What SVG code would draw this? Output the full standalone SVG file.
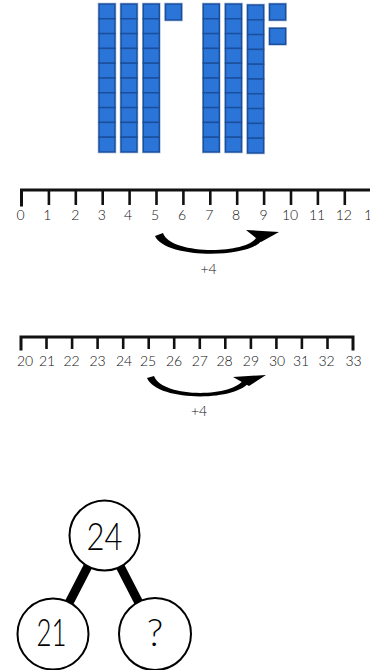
<svg xmlns="http://www.w3.org/2000/svg" width="370" height="670" viewBox="0 0 370 670">
<defs>
<style>
.cell{fill:#2b74d8;stroke:#1b4e9b;stroke-width:1.4}
.halo{fill:none;stroke:#a9bcd9;stroke-width:1}
.axis{stroke:#111;stroke-width:3;fill:none;stroke-linecap:square}
.tick{stroke:#111;stroke-width:2.6}
.lbl{font-family:Lato,"Open Sans","Liberation Sans",sans-serif;font-weight:300;fill:#111;text-anchor:middle}
.arrow{fill:#000}
.bond{fill:#fff;stroke:#000;stroke-width:2}
.bondline{stroke:#000;stroke-width:9}
.big{font-family:Lato,"Open Sans","Liberation Sans",sans-serif;font-weight:300;font-size:38px;fill:#000;text-anchor:middle}
</style>
<g id="rod">
<rect class="halo" x="-0.8" y="-0.8" width="17.6" height="149.6"/>
<rect class="cell" x="0" y="0" width="16" height="14.8"/>
<rect class="cell" x="0" y="14.8" width="16" height="14.8"/>
<rect class="cell" x="0" y="29.6" width="16" height="14.8"/>
<rect class="cell" x="0" y="44.4" width="16" height="14.8"/>
<rect class="cell" x="0" y="59.2" width="16" height="14.8"/>
<rect class="cell" x="0" y="74" width="16" height="14.8"/>
<rect class="cell" x="0" y="88.8" width="16" height="14.8"/>
<rect class="cell" x="0" y="103.6" width="16" height="14.8"/>
<rect class="cell" x="0" y="118.4" width="16" height="14.8"/>
<rect class="cell" x="0" y="133.2" width="16" height="14.8"/>
</g>
<g id="unit">
<rect class="halo" x="-0.8" y="-0.8" width="17.6" height="17.6"/>
<rect class="cell" x="0" y="0" width="16" height="16"/>
</g>
</defs>
<rect width="370" height="670" fill="#fff"/>

<g id="blocks-24">
<use href="#rod" x="99" y="4"/>
<use href="#rod" x="121" y="4"/>
<use href="#rod" x="143.3" y="4"/>
<use href="#unit" x="165.5" y="4"/>
</g>
<g id="blocks-32">
<use href="#rod" x="203.3" y="4"/>
<use href="#rod" x="225.5" y="4"/>
<use href="#rod" x="247.6" y="5"/>
<use href="#unit" x="269.6" y="4"/>
<use href="#unit" x="269.6" y="28.3"/>
</g>

<g id="numberline-1">
<path class="axis" d="M21.5,205 V190 H372"/>
<g class="tick">
<line x1="48.9" y1="190" x2="48.9" y2="205"/>
<line x1="75.8" y1="190" x2="75.8" y2="205"/>
<line x1="102.7" y1="190" x2="102.7" y2="205"/>
<line x1="129.6" y1="190" x2="129.6" y2="205"/>
<line x1="156.5" y1="190" x2="156.5" y2="205"/>
<line x1="183.4" y1="190" x2="183.4" y2="205"/>
<line x1="210.3" y1="190" x2="210.3" y2="205"/>
<line x1="237.2" y1="190" x2="237.2" y2="205"/>
<line x1="264.1" y1="190" x2="264.1" y2="205"/>
<line x1="291" y1="190" x2="291" y2="205"/>
<line x1="317.9" y1="190" x2="317.9" y2="205"/>
<line x1="344.8" y1="190" x2="344.8" y2="205"/>
</g>
<g class="lbl" font-size="14">
<text x="20.5" y="220">0</text>
<text x="47.4" y="220">1</text>
<text x="75.3" y="220">2</text>
<text x="101.7" y="220">3</text>
<text x="128.1" y="220">4</text>
<text x="155" y="220">5</text>
<text x="182" y="220">6</text>
<text x="209.3" y="220">7</text>
<text x="236" y="220">8</text>
<text x="263.6" y="220">9</text>
<text x="290" y="220">10</text>
<text x="317" y="220">11</text>
<text x="343.8" y="220">12</text>
<text x="372" y="220">13</text>
</g>
</g>

<g id="jump-1">
<path class="arrow" d="M155,236 C165,259 250,259 262,240 L256,238 C245,254.7 170,254.7 163,233 Z"/>
<polygon class="arrow" points="246,230 279,232 261,242"/>
<text class="lbl" font-size="14" x="208.5" y="274">+4</text>
</g>

<g id="numberline-2">
<path class="axis" d="M21,349 V337 H353 V349"/>
<g class="tick">
<line x1="46.5" y1="337" x2="46.5" y2="349"/>
<line x1="72.1" y1="337" x2="72.1" y2="349"/>
<line x1="97.6" y1="337" x2="97.6" y2="349"/>
<line x1="123.2" y1="337" x2="123.2" y2="349"/>
<line x1="148.7" y1="337" x2="148.7" y2="349"/>
<line x1="174.2" y1="337" x2="174.2" y2="349"/>
<line x1="199.8" y1="337" x2="199.8" y2="349"/>
<line x1="225.3" y1="337" x2="225.3" y2="349"/>
<line x1="250.9" y1="337" x2="250.9" y2="349"/>
<line x1="276.4" y1="337" x2="276.4" y2="349"/>
<line x1="301.9" y1="337" x2="301.9" y2="349"/>
<line x1="327.5" y1="337" x2="327.5" y2="349"/>
</g>
<g class="lbl" font-size="14">
<text x="25" y="366">20</text>
<text x="47" y="366">21</text>
<text x="71.5" y="366">22</text>
<text x="97.6" y="366">23</text>
<text x="124" y="366">24</text>
<text x="148" y="366">25</text>
<text x="174" y="366">26</text>
<text x="199.8" y="366">27</text>
<text x="224.5" y="366">28</text>
<text x="250.9" y="366">29</text>
<text x="277" y="366">30</text>
<text x="301" y="366">31</text>
<text x="326.5" y="366">32</text>
<text x="353.5" y="366">33</text>
</g>
</g>

<g id="jump-2">
<path class="arrow" d="M147,378 C157,402 238,402 250,381 L244,379 C233,398 162,398 154,376 Z"/>
<polygon class="arrow" points="233,377 266,375 249,386"/>
<text class="lbl" font-size="14" x="199" y="416">+4</text>
</g>

<g id="connectors">
<line class="bondline" x1="104" y1="535" x2="53" y2="634"/>
<line class="bondline" x1="104" y1="535" x2="155" y2="634"/>
</g>

<g id="node-24">
<circle class="bond" cx="104.5" cy="535.5" r="35"/>
<text class="big" x="104.5" y="549.5" textLength="36" lengthAdjust="spacingAndGlyphs">24</text>
</g>
<g id="node-21">
<circle class="bond" cx="53" cy="634" r="35.5"/>
<text class="big" x="51.5" y="645.5" textLength="30" lengthAdjust="spacingAndGlyphs">21</text>
</g>
<g id="node-q">
<circle class="bond" cx="155" cy="634" r="36"/>
<text class="big" x="155" y="646" font-size="34">?</text>
</g>
</svg>
